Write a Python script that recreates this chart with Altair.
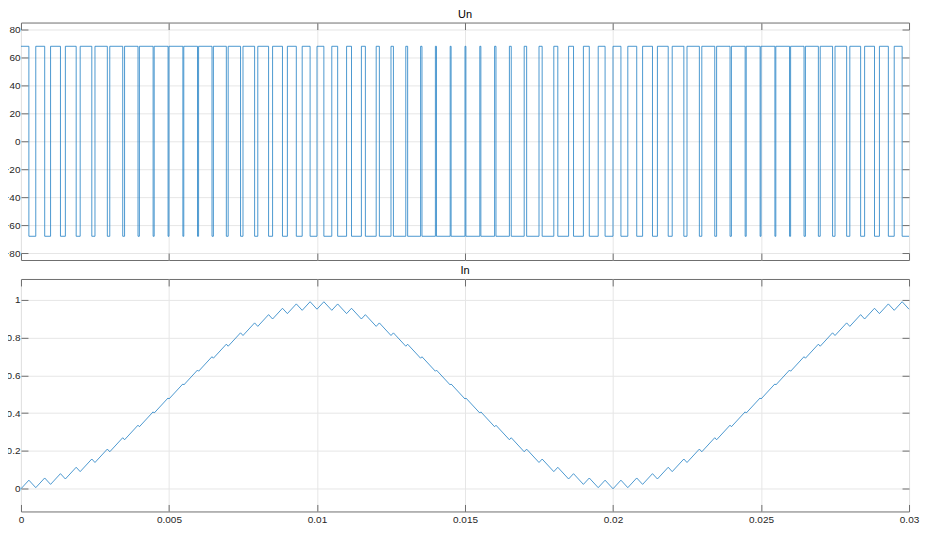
import altair as alt
import pandas as pd

# ---- data ----
PERIOD = 0.0005          # PWM switching period (s)
T_END = 0.03
U_HIGH = 68
U_LOW = -68

# fraction of each switching period spent at +U (60 periods)
duty = [0.535, 0.603, 0.668, 0.730, 0.786, 0.835, 0.875, 0.907, 0.928, 0.939,
        0.939, 0.928, 0.907, 0.875, 0.835, 0.786, 0.730, 0.668, 0.603, 0.535,
        0.465, 0.397, 0.332, 0.270, 0.214, 0.165, 0.125, 0.093, 0.072, 0.061,
        0.061, 0.072, 0.093, 0.125, 0.165, 0.214, 0.270, 0.332, 0.397, 0.465,
        0.535, 0.603, 0.668, 0.730, 0.786, 0.835, 0.875, 0.907, 0.928, 0.939,
        0.939, 0.928, 0.907, 0.875, 0.835, 0.786, 0.730, 0.668, 0.603, 0.535]

# current at the start of each period (valleys), 61 values
i_valley = [0.0000, 0.0059, 0.0233, 0.0518, 0.0907, 0.1391, 0.1958, 0.2594, 0.3282, 0.4007,
            0.4750, 0.5493, 0.6218, 0.6907, 0.7542, 0.8109, 0.8593, 0.8982, 0.9268, 0.9442,
            0.9500, 0.9442, 0.9268, 0.8982, 0.8593, 0.8109, 0.7542, 0.6907, 0.6218, 0.5493,
            0.4750, 0.4007, 0.3282, 0.2594, 0.1958, 0.1391, 0.0907, 0.0518, 0.0233, 0.0059,
            0.0000, 0.0059, 0.0233, 0.0518, 0.0907, 0.1391, 0.1958, 0.2594, 0.3282, 0.4007,
            0.4750, 0.5493, 0.6218, 0.6907, 0.7542, 0.8109, 0.8593, 0.8982, 0.9268, 0.9442,
            0.9500]

# current at the falling edge of each period (peaks), 60 values
i_peak = [0.0455, 0.0572, 0.0801, 0.1139, 0.1575, 0.2101, 0.2702, 0.3365, 0.4071, 0.4805,
          0.5548, 0.6282, 0.6989, 0.7651, 0.8252, 0.8777, 0.9214, 0.9550, 0.9781, 0.9897,
          0.9895, 0.9779, 0.9550, 0.9212, 0.8775, 0.8249, 0.7648, 0.6986, 0.6279, 0.5545,
          0.4802, 0.4068, 0.3361, 0.2700, 0.2098, 0.1573, 0.1137, 0.0800, 0.0570, 0.0454,
          0.0455, 0.0572, 0.0801, 0.1139, 0.1575, 0.2101, 0.2702, 0.3365, 0.4071, 0.4805,
          0.5548, 0.6282, 0.6989, 0.7651, 0.8252, 0.8777, 0.9214, 0.9550, 0.9781, 0.9897]

x_ticks = [0, 0.005, 0.01, 0.015, 0.02, 0.025, 0.03]
un_ticks = [-80, -60, -40, -20, 0, 20, 40, 60, 80]
in_ticks = [0, 0.2, 0.4, 0.6, 0.8, 1]
un_domain = [-85, 85]
in_domain = [-0.12, 1.11]

# ---- tables ----
un_rows, in_rows = [], []
for k, d in enumerate(duty):
    t0 = k * PERIOD
    t1 = t0 + d * PERIOD
    un_rows += [{"t": t0, "v": U_HIGH}, {"t": t1, "v": U_LOW}]
    in_rows += [{"t": t0, "v": i_valley[k]}, {"t": t1, "v": i_peak[k]}]
un_rows.append({"t": T_END, "v": U_LOW})
in_rows.append({"t": T_END, "v": i_valley[-1]})
un_df = pd.DataFrame(un_rows)
in_df = pd.DataFrame(in_rows)

W = 890
BLUE = "#1f7fc4"
TICK = 7


def panel(df, ydom, yticks, yfmt, title, height, interp, show_xlabels):
    xs = alt.Scale(domain=[0, T_END], nice=False, zero=False)
    ys = alt.Scale(domain=ydom, nice=False, zero=False)
    base = alt.Chart(df)
    main = base.mark_line(color=BLUE, strokeWidth=0.8, interpolate=interp).encode(
        x=alt.X("t:Q", scale=xs, axis=alt.Axis(values=x_ticks, grid=True, ticks=False, domain=False,
                                               labels=show_xlabels, format="~g", labelPadding=3,
                                               labelFlush=False, title=None)),
        y=alt.Y("v:Q", scale=ys, axis=alt.Axis(values=yticks, grid=True, ticks=False, domain=False,
                                               labelPadding=1, format=yfmt, labelFlush=False, title=None)),
    )
    inner1 = base.mark_line(opacity=0, interpolate=interp).encode(
        x=alt.X("t:Q", scale=xs, axis=alt.Axis(orient="top", offset=-height, values=x_ticks, labels=False,
                                               grid=False, domain=False, tickSize=TICK, title=None)),
        y=alt.Y("v:Q", scale=ys, axis=alt.Axis(orient="right", offset=-W, values=yticks, labels=False,
                                               grid=False, domain=False, tickSize=TICK, title=None)),
    )
    inner2 = base.mark_line(opacity=0, interpolate=interp).encode(
        x=alt.X("t:Q", scale=xs, axis=alt.Axis(orient="bottom", offset=-height, values=x_ticks, labels=False,
                                               grid=False, domain=False, tickSize=TICK, title=None)),
        y=alt.Y("v:Q", scale=ys, axis=alt.Axis(orient="left", offset=-W, values=yticks, labels=False,
                                               grid=False, domain=False, tickSize=TICK, title=None)),
    )
    return (
        alt.layer(main, inner1, inner2, title=alt.TitleParams(title, anchor="middle"))
        .resolve_axis(x="independent", y="independent")
        .properties(width=W, height=height)
    )


top = panel(un_df, un_domain, un_ticks, "d", "Un", 238, "step-after", False)
bottom = panel(in_df, in_domain, in_ticks, "~g", "In", 233, "linear", True)

chart = (
    alt.vconcat(top, bottom, spacing=4)
    .properties(padding={"left": -6, "top": 0, "right": 0, "bottom": 0}, background="white")
    .configure_view(stroke="#6e6e6e", strokeWidth=1)
    .configure_axis(labelFont="Liberation Sans", labelFontSize=10, labelColor="#262626",
                    gridColor="#e6e6e6", gridWidth=1, tickColor="#6e6e6e", tickWidth=1)
    .configure_title(font="Liberation Sans", fontSize=11, fontWeight="normal", color="#000000", offset=2)
)

chart.save("out.html", embed_options={"renderer": "svg", "actions": False})
